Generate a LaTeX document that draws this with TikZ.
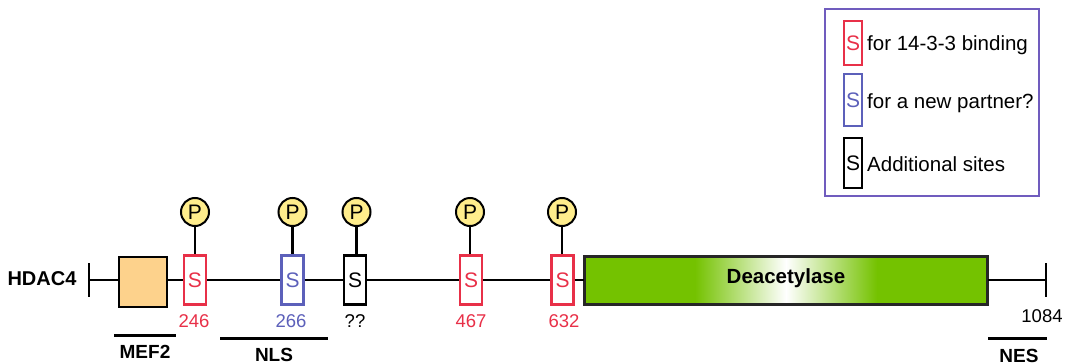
\documentclass[tikz,border=0pt]{standalone}
\usepackage{fontspec}
\setmainfont{Liberation Sans}
\definecolor{sred}{RGB}{232,48,72}
\definecolor{sblue}{RGB}{92,96,186}
\definecolor{pyellow}{RGB}{255,237,140}
\definecolor{morange}{RGB}{253,210,140}
\definecolor{dgreen}{RGB}{116,194,0}
\definecolor{lpurple}{RGB}{112,92,190}
\tikzset{
  every node/.style={inner sep=0pt},
  fs/.style={font=\fontsize{18.5}{20}\selectfont},
  fb/.style={font=\fontsize{19}{21}\selectfont\bfseries},
  sbox/.style={draw=#1, text=#1, line width=2.2pt, minimum width=22pt, minimum height=49pt, font=\fontsize{21}{22}\selectfont},
  lbox/.style={draw=#1, text=#1, line width=2.2pt, minimum width=18pt, minimum height=48pt, font=\fontsize{21}{22}\selectfont},
  pcirc/.style={circle, draw=black, fill=pyellow, line width=2pt, minimum size=28pt, font=\fontsize{21}{22}\selectfont},
  bb/.style={line width=2.4pt, black},
  bar/.style={line width=3pt, black},
  ltext/.style={font=\fontsize{20.5}{22}\selectfont, anchor=west},
}
\begin{document}
\begin{tikzpicture}[x=1pt,y=-1pt]
\useasboundingbox (0,0) rectangle (1068,364);
% title
\node[font=\fontsize{20}{22}\selectfont\bfseries] (hdac) at (42,279) {HDAC4};
% end ticks
\coordinate (lt) at (89,280);
\coordinate (rt) at (1046,280);
\draw[bb] (89,263) -- (89,297);
\draw[bb] (1046,263) -- (1046,297);
% MEF2 box
\node[draw=black, fill=morange, line width=2.2pt, minimum width=48pt, minimum height=50pt] (mef) at (143,282) {};
% S boxes
\node[sbox=sred] (s246) at (195,280) {S};
\node[sbox=sblue] (s266) at (292.5,280) {S};
\node[sbox=black] (sq) at (355,280) {S};
\node[sbox=sred] (s467) at (471,280) {S};
\node[sbox=sred] (s632) at (562.5,280) {S};
% Deacetylase
\node[minimum width=403pt, minimum height=48pt, fill=dgreen] (dea) at (786,280.5) {};
\shade[left color=dgreen, right color=dgreen, middle color=white] (695,257) rectangle (877,304);
\draw[line width=3.2pt, black!85] (dea.south west) rectangle (dea.north east);
\node[font=\fontsize{20.5}{22}\selectfont\bfseries] (deat) at (786,278) {Deacetylase};
% backbone
\draw[bb] (lt) -- (mef.west |- lt);
\draw[bb] (mef.east |- lt) -- (s246.west);
\draw[bb] (s246.east) -- (s266.west);
\draw[bb] (s266.east) -- (sq.west);
\draw[bb] (sq.east) -- (s467.west);
\draw[bb] (s467.east) -- (s632.west);
\draw[bb] (s632.east) -- (dea.west |- s632.east);
\draw[bb] (dea.east |- rt) -- (rt);
% phosphates
\foreach \n/\x in {p1/195, p2/292.5, p3/356.5, p4/470, p5/562}{
  \node[pcirc] (\n) at (\x,212) {P};
}
\draw[bb] (p1) -- (p1 |- s246.north);
\draw[bb] (p2) -- (p2 |- s266.north);
\draw[bb] (p3) -- (p3 |- sq.north);
\draw[bb] (p4) -- (p4 |- s467.north);
\draw[bb] (p5) -- (p5 |- s632.north);
% numbers
\node[fs, text=sred] (n246) at (194,321) {246};
\node[fs, text=sblue] (n266) at (291,321) {266};
\node[fs] (nq) at (355,321) {??};
\node[fs, text=sred] (n467) at (471,321) {467};
\node[fs, text=sred] (n632) at (564,321) {632};
\node[fs] (n1084) at (1042,316) {1084};
% region bars
\coordinate (m1) at (114,335.5); \coordinate (m2) at (176,335.5);
\draw[bar] (m1) -- (m2);
\node[fb] (mef2) at (145,352) {MEF2};
\coordinate (nl1) at (220,338); \coordinate (nl2) at (328,338);
\draw[bar] (nl1) -- (nl2);
\node[fb] (nls) at (274,354.5) {NLS};
\coordinate (ne1) at (988,338); \coordinate (ne2) at (1047,338);
\draw[bar] (ne1) -- (ne2);
\node[fb] (nes) at (1019,355.5) {NES};
% legend
\node[draw=lpurple, line width=2.4pt, minimum width=214pt, minimum height=187pt] (leg) at (932,102.5) {};
\node[lbox=sred, minimum height=44pt] (l1) at (853,43) {S};
\node[lbox=sblue, minimum height=52pt] (l2) at (853,100) {S};
\node[lbox=black, minimum height=50pt] (l3) at (853,163) {S};
\node[ltext] (t1) at (867,45.5) {for 14-3-3 binding};
\node[ltext] (t2) at (867,103.5) {for a new partner?};
\node[ltext] (t3) at (867,164.5) {Additional sites};
\end{tikzpicture}
\end{document}
